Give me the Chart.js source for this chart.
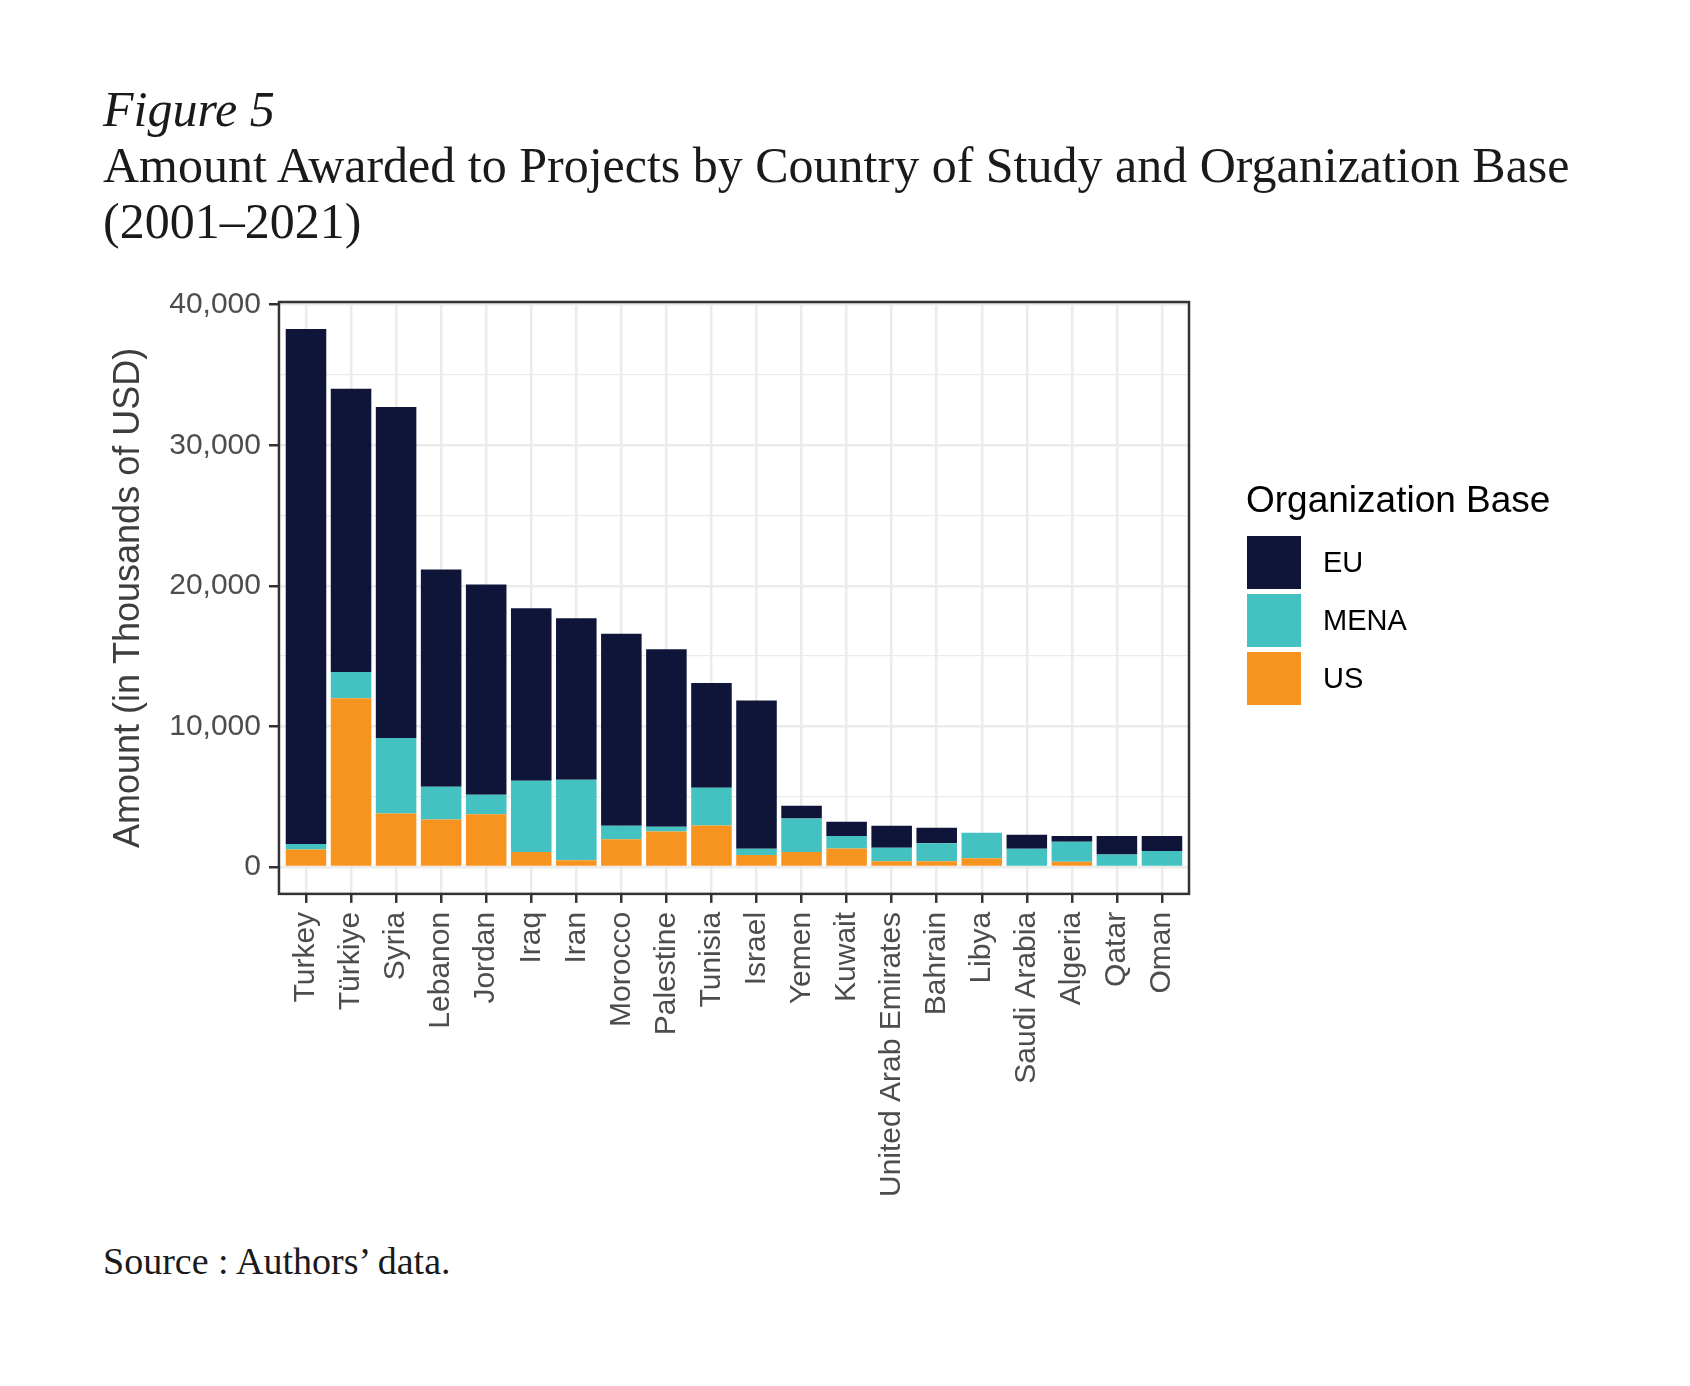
<!DOCTYPE html>
<html>
<head>
<meta charset="utf-8">
<title>Figure 5</title>
<script src="https://cdn.jsdelivr.net/npm/chart.js@4.4.1/dist/chart.umd.min.js"></script>
<style>
  html, body { margin: 0; padding: 0; background: #fff; }
  body { width: 1690px; height: 1386px; position: relative; overflow: hidden; }
  .serif { position: absolute; left: 103px; white-space: nowrap; color: #1a1a1a;
           font-family: 'Liberation Serif', 'Times New Roman', serif; }
  #fig { top: 81px; font-size: 50px; line-height: 56px; font-style: italic; }
  #title { top: 137px; font-size: 50px; line-height: 56px; }
  #source { top: 1239px; font-size: 38px; line-height: 44px; }
  #chart-wrap { position: absolute; left: 0; top: 260px; width: 1690px; height: 960px; }
  #legend { position: absolute; left: 1246px; top: 482px; font-family: 'Liberation Sans', Arial, sans-serif; color: #000; }
  #legend .ttl { font-size: 37px; line-height: 36px; margin-bottom: 18px; }
  #legend .item { display: flex; align-items: center; height: 53px; margin-bottom: 5px; }
  #legend .key { width: 54px; height: 53px; margin-left: 1px; margin-right: 22px; }
  #legend .lbl { font-size: 29px; }
</style>
</head>
<body>
<div id="fig" class="serif">Figure 5</div>
<div id="title" class="serif">Amount Awarded to Projects by Country of Study and Organization Base<br>(2001–2021)</div>
<div id="chart-wrap"><canvas id="amount-chart"></canvas></div>
<div id="legend"></div>
<div id="source" class="serif">Source : Authors’ data.</div>

<script>
//? Data
const countries = ['Turkey', 'Türkiye', 'Syria', 'Lebanon', 'Jordan', 'Iraq', 'Iran', 'Morocco',
    'Palestine', 'Tunisia', 'Israel', 'Yemen', 'Kuwait', 'United Arab Emirates', 'Bahrain',
    'Libya', 'Saudi Arabia', 'Algeria', 'Qatar', 'Oman']
const usValues = [1240, 12000, 3800, 3380, 3750, 1070, 480, 1980, 2520, 2950,
    860, 1070, 1310, 400, 400, 620, 0, 380, 0, 0]
const menaValues = [400, 1870, 5380, 2330, 1390, 5060, 5730, 950, 340, 2680,
    430, 2380, 900, 960, 1290, 1810, 1290, 1410, 880, 1140]
const euValues = [36640, 20150, 23550, 15460, 14960, 12270, 11480, 13670, 12630, 7450,
    10560, 910, 1000, 1570, 1100, 0, 1000, 420, 1330, 1070]
const majorTicks = [0, 10000, 20000, 30000, 40000]
const minorTicks = [5000, 15000, 25000, 35000]

const toPoints = values => values.map((v, i) => ({ x: i, y: v }))

//? Chart
Chart.defaults.font.family = "'Liberation Sans', Arial, sans-serif"

const dataAmount = {
    datasets: [
        { label: 'US', data: toPoints(usValues), backgroundColor: '#F7941F' },
        { label: 'MENA', data: toPoints(menaValues), backgroundColor: '#44C2C1' },
        { label: 'EU', data: toPoints(euValues), backgroundColor: '#0E1538' }
    ]
}

const isMajor = v => majorTicks.includes(v)

const panelBorder = {
    id: 'panelBorder',
    afterDatasetsDraw(chart) {
        const { ctx, chartArea: a } = chart
        ctx.save()
        ctx.strokeStyle = '#333333'
        ctx.lineWidth = 2.5
        ctx.strokeRect(a.left, a.top, a.right - a.left, a.bottom - a.top)
        ctx.restore()
    }
}

const configAmount = {
    type: 'bar',
    data: dataAmount,
    plugins: [panelBorder],
    options: {
        responsive: true,
        maintainAspectRatio: false,
        animation: false,
        layout: { padding: { left: 107, right: 501, top: 42, bottom: 14 } },
        datasets: { bar: { barPercentage: 0.9, categoryPercentage: 1, borderWidth: 0 } },
        plugins: { legend: { display: false }, tooltip: { enabled: false } },
        scales: {
            x: {
                type: 'linear',
                stacked: true,
                offset: false,
                min: -0.6,
                max: countries.length - 0.4,
                afterBuildTicks: axis => { axis.ticks = countries.map((c, i) => ({ value: i })) },
                border: { display: false },
                grid: { offset: false, color: '#EBEBEB', lineWidth: 2.5, tickColor: '#333333', tickWidth: 2.5, tickLength: 9 },
                ticks: {
                    autoSkip: false, maxRotation: 90, minRotation: 90, padding: 9,
                    color: '#4D4D4D', font: { size: 30 },
                    callback: (v, i) => countries[i]
                }
            },
            y: {
                stacked: true,
                min: -1914,
                max: 40194,
                afterBuildTicks: axis => {
                    axis.ticks = majorTicks.concat(minorTicks).sort((a, b) => a - b).map(v => ({ value: v }))
                },
                border: { display: false },
                grid: {
                    color: '#EBEBEB',
                    lineWidth: c => isMajor(c.tick.value) ? 2.5 : 1.3,
                    tickColor: c => isMajor(c.tick.value) ? '#333333' : 'rgba(0,0,0,0)',
                    tickWidth: 2.5,
                    tickLength: 10
                },
                ticks: {
                    padding: 8, color: '#4D4D4D', font: { size: 30 },
                    callback: v => isMajor(v) ? v.toLocaleString('en-US') : ''
                },
                title: {
                    display: true, text: 'Amount (in Thousands of USD)',
                    color: '#3D3D3D', font: { size: 36 }, padding: { top: 0, bottom: 11 }
                }
            }
        }
    }
}

const amountCanvas = document.getElementById('amount-chart')
const amountChart = new Chart(amountCanvas, configAmount)

//? Legend (EU on top, like the stack)
const legendBox = document.getElementById('legend')
legendBox.innerHTML = '<div class="ttl">Organization Base</div>'
amountChart.data.datasets.slice().reverse().forEach(ds => {
    const item = document.createElement('div')
    item.className = 'item'
    item.innerHTML = '<div class="key" style="background:' + ds.backgroundColor + '"></div><div class="lbl">' + ds.label + '</div>'
    legendBox.appendChild(item)
})
</script>
</body>
</html>
